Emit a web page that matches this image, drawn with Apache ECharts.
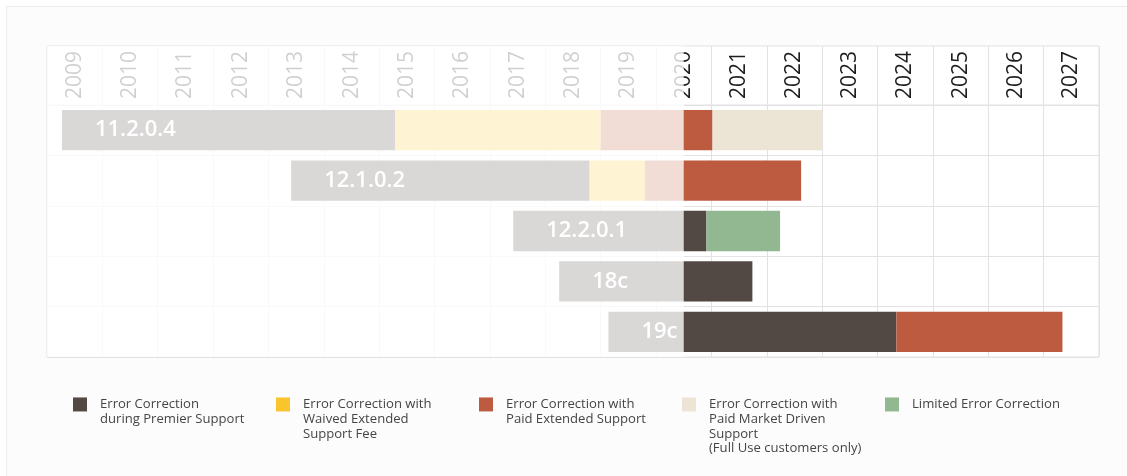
<!DOCTYPE html>
<html>
<head>
<meta charset="utf-8">
<script src="https://cdn.jsdelivr.net/npm/echarts@6/dist/echarts.min.js"></script>
<style>
  html, body { margin: 0; padding: 0; background: #fff; overflow: hidden; }
  #card { position: absolute; left: 6px; top: 6px; width: 1140px; height: 490px; border: 1px solid #ececec; background: #fcfcfc; }
  #main { position: absolute; left: 0; top: 0; width: 1127px; height: 476px; }
</style>
</head>
<body>
<div id="card"></div>
<div id="main"></div>
<script>
  // rows and column headers
  const versions = ['11.2.0.4', '12.1.0.2', '12.2.0.1', '18c', '19c']
  const years = ['2009', '2010', '2011', '2012', '2013', '2014', '2015', '2016', '2017', '2018',
    '2019', '2020', '2021', '2022', '2023', '2024', '2025', '2026', '2027']

  // [row, start, end] in fractional years
  const premierSupport = [[0, 2009.27, 2015.29], [1, 2013.41, 2018.8], [2, 2017.42, 2020.91], [3, 2018.25, 2021.74], [4, 2019.14, 2024.34]]
  const waivedExtended = [[0, 2015.29, 2019.0], [1, 2018.8, 2019.8]]
  const paidExtended = [[0, 2019.0, 2021.02], [1, 2019.8, 2022.62], [4, 2024.34, 2027.34]]
  const marketDriven = [[0, 2021.02, 2023.0]]
  const limitedCorrection = [[2, 2020.91, 2022.24]]
  const nowYear = 2020.5

  const names = [
    'Error Correction\nduring Premier Support',
    'Error Correction with\nWaived Extended\nSupport Fee',
    'Error Correction with\nPaid Extended Support',
    'Error Correction with\nPaid Market Driven\nSupport\n(Full Use customers only)',
    'Limited Error Correction'
  ]
  const colors = ['#524945', '#f9c42c', '#bd5b41', '#ece5d5', '#92b891']

  const chart = echarts.init(document.getElementById('main'))

  function spanItem(withLabel) {
    return function (params, api) {
      const row = api.value(0)
      const a = api.coord([api.value(1), row])
      const b = api.coord([api.value(2), row])
      const h = api.size([0, 1])[1] * 0.8
      const rect = {
        type: 'rect',
        shape: { x: a[0], y: a[1] - h / 2, width: b[0] - a[0], height: h },
        style: api.style()
      }
      if (!withLabel) return rect
      return {
        type: 'group',
        children: [rect, {
          type: 'text',
          x: a[0] + 33,
          y: a[1],
          style: {
            text: versions[row],
            fill: '#fff',
            font: '600 22px "Open Sans"',
            verticalAlign: 'middle'
          }
        }]
      }
    }
  }

  function spanSeries(i, data, withLabel) {
    return {
      name: names[i],
      type: 'custom',
      xAxisIndex: 0,
      yAxisIndex: 0,
      renderItem: spanItem(withLabel),
      itemStyle: { color: colors[i] },
      encode: { x: [1, 2], y: 0 },
      data: data,
      z: 3
    }
  }

  function legendText(name) {
    const n = name.split('\n').length
    return '\n'.repeat(n - 1) + name
  }

  // white veil over everything before "now"
  function pastVeil(xi, yi) {
    return {
      name: 'past' + xi, type: 'scatter', xAxisIndex: xi, yAxisIndex: yi, data: [], z: 10,
      markArea: {
        silent: true,
        z: 10,
        itemStyle: { color: 'rgba(255,255,255,0.79)' },
        data: [[{ xAxis: 2009 }, { xAxis: nowYear }]]
      }
    }
  }

  chart.setOption({
    backgroundColor: 'transparent',
    animation: false,
    legend: {
      left: 73,
      top: 353,
      padding: 0,
      itemWidth: 14,
      itemHeight: 14,
      itemGap: 10,
      icon: 'rect',
      data: names,
      formatter: legendText,
      selectedMode: false,
      textStyle: {
        color: '#454545',
        fontFamily: 'Open Sans',
        fontSize: 13.1,
        lineHeight: 14.7,
        width: 166,
        padding: [0, 0, 0, 8]
      }
    },
    grid: [
      { left: 47, right: 28, top: 105, bottom: 119, show: true, backgroundColor: '#fff', borderColor: '#e2e2e2', borderWidth: 1 },
      { left: 47, right: 28, top: 46, height: 59, show: true, backgroundColor: '#fff', borderColor: '#e2e2e2', borderWidth: 1 }
    ],
    xAxis: [
      {
        type: 'value', gridIndex: 0, min: 2009, max: 2028, interval: 1,
        axisLabel: { show: false }, axisLine: { show: false }, axisTick: { show: false },
        splitLine: { show: true, lineStyle: { color: '#e2e2e2' } }
      },
      {
        type: 'value', gridIndex: 1, min: 2009, max: 2028, interval: 1,
        axisLabel: { show: false }, axisLine: { show: false }, axisTick: { show: false },
        splitLine: { show: true, lineStyle: { color: '#e2e2e2' } }
      },
      {
        type: 'category', gridIndex: 0, position: 'top', data: years,
        axisLine: { show: false }, axisTick: { show: false }, splitLine: { show: false },
        axisLabel: { rotate: -90, margin: 6, interval: 0, color: '#1e1e1e', fontFamily: 'Open Sans', fontSize: 21 }
      }
    ],
    yAxis: [
      {
        type: 'category', gridIndex: 0, data: versions, inverse: true,
        axisLabel: { show: false }, axisLine: { show: false }, axisTick: { show: false },
        splitLine: { show: true, interval: 0, lineStyle: { color: '#e2e2e2' } }
      },
      { type: 'value', gridIndex: 1, min: 0, max: 1, show: false }
    ],
    series: [
      spanSeries(0, premierSupport, true),
      spanSeries(1, waivedExtended, false),
      spanSeries(2, paidExtended, false),
      spanSeries(3, marketDriven, false),
      spanSeries(4, limitedCorrection, false),
      pastVeil(0, 0),
      pastVeil(1, 1)
    ]
  })
</script>
</body>
</html>
